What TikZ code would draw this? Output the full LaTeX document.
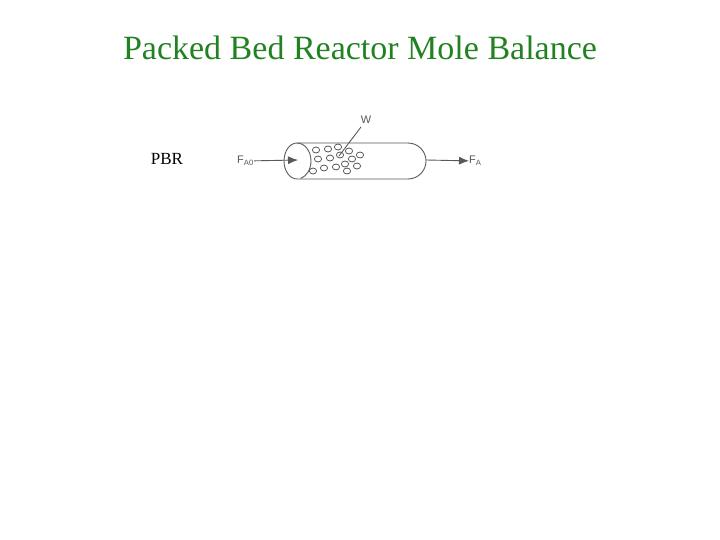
\documentclass[tikz,border=0pt]{standalone}
\usepackage{fontspec}
\usetikzlibrary{arrows.meta}
\setmainfont{Liberation Serif}
\newfontfamily\lsans{Liberation Sans}
\definecolor{titlegreen}{RGB}{34,130,34}
\begin{document}
\begin{tikzpicture}[x=1pt,y=1pt,
  lbl/.style={font=\lsans\fontsize{11}{12}\selectfont,text=black!65,inner sep=0},
  pel/.style={draw=black!65,line width=0.8pt},
  ln/.style={draw=black!65,line width=0.9pt}]
\useasboundingbox (0,0) rectangle (720,-540);
\node[text=titlegreen,font=\fontsize{34}{40}\selectfont] (title) at (360,-48) {Packed Bed Reactor Mole Balance};
\node[font=\fontsize{17}{20}\selectfont] (pbr) at (167,-159) {PBR};
% reactor body
\draw[ln] (297,-143) -- (408,-143) arc[start angle=90,end angle=-90,x radius=18,y radius=18] -- (297,-179);
\draw[ln] (297,-179) arc[start angle=270,end angle=90,x radius=13,y radius=18];
\draw[ln] (297,-143) arc[start angle=90,end angle=-75,x radius=14,y radius=18];
\coordinate (bodyL) at (298,-160);
\coordinate (bodyR) at (426,-160);
\node[lbl,anchor=east] (fa0) at (254,-161) {F\textsubscript{A0}};
\node[lbl,anchor=west] (fa) at (469,-161) {F\textsubscript{A}};
\draw[ln,-{Latex[length=10pt,width=8pt]}] (fa0) -- (bodyL);
\draw[ln,-{Latex[length=10pt,width=8pt]}] (bodyR) -- (fa);
% pellets
\foreach \x/\y in {316/150,328/149,338/147,349/151,318/159,330/158,340/155,352/159,360/155,313/171,324/168,336/167,347/171,357/166,345/164}
  \draw[pel] (\x,-\y) ellipse[x radius=3.6,y radius=3];
\node[lbl] (w) at (366,-120) {W};
\coordinate (wt) at (361,-127);
\draw[ln] (wt) -- (339,-156);
\end{tikzpicture}
\end{document}
